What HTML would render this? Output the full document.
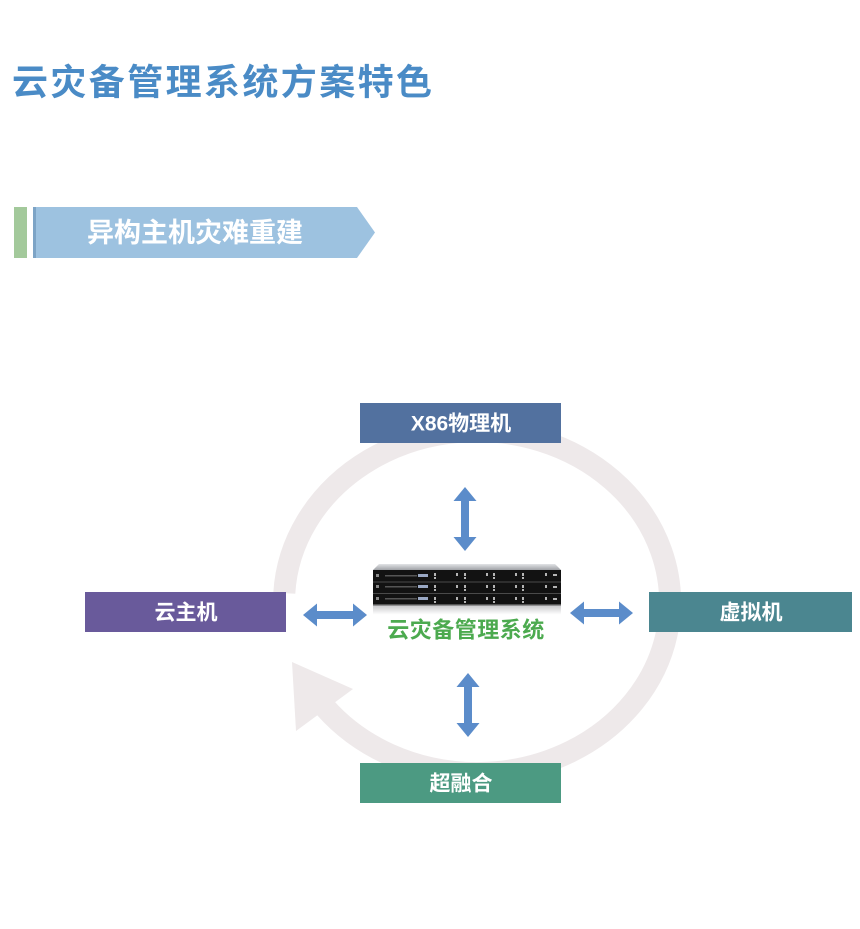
<!DOCTYPE html>
<html>
<head>
<meta charset="utf-8">
<style>
  html,body{margin:0;padding:0;background:#fff;}
  body{width:860px;height:929px;overflow:hidden;position:relative;}
  svg{position:absolute;left:0;top:0;}
  text{font-family:"Liberation Sans","Noto Sans CJK SC",sans-serif;}
</style>
</head>
<body>
<svg width="860" height="929" viewBox="0 0 860 929" xmlns="http://www.w3.org/2000/svg">
  <defs>
    <linearGradient id="topface" x1="0" y1="0" x2="0" y2="1">
      <stop offset="0" stop-color="#e2e3e6"/>
      <stop offset="1" stop-color="#9fa1a6"/>
    </linearGradient>
    <linearGradient id="refl" x1="0" y1="0" x2="0" y2="1">
      <stop offset="0" stop-color="#c9c9cb"/>
      <stop offset="1" stop-color="#ffffff"/>
    </linearGradient>
  </defs>

  <!-- Title -->
  <text x="12" y="82" font-size="36" font-weight="bold" fill="#4a8bc6" letter-spacing="2.4" dominant-baseline="central">云灾备管理系统方案特色</text>

  <!-- Banner -->
  <rect x="14" y="207" width="13" height="51" fill="#a3c99b"/>
  <rect x="33" y="207" width="3" height="51" fill="#7da4c6"/>
  <polygon points="36,207 357,207 375,232.5 357,258 36,258" fill="#9dc2e0"/>
  <text x="195" y="233" font-size="27" font-weight="bold" fill="#ffffff" text-anchor="middle" dominant-baseline="central">异构主机灾难重建</text>

  <!-- Circular arrow ring -->
  <path d="M 284.3 593.1 A 193 171 0 1 1 324.9 707.3" fill="none" stroke="#eee9ea" stroke-width="22"/>
  <polygon points="292,662 353,689 296,731" fill="#eee9ea"/>

  <!-- Boxes -->
  <rect x="360" y="403" width="201" height="40" fill="#52719f"/>
  <text x="461" y="424" font-size="21" font-weight="bold" fill="#ffffff" text-anchor="middle" dominant-baseline="central">X86物理机</text>

  <rect x="85" y="592" width="201" height="40" fill="#695a9b"/>
  <text x="186" y="613" font-size="21" font-weight="bold" fill="#ffffff" text-anchor="middle" dominant-baseline="central">云主机</text>

  <rect x="649" y="592" width="203" height="40" fill="#4b8690"/>
  <text x="751" y="613" font-size="21" font-weight="bold" fill="#ffffff" text-anchor="middle" dominant-baseline="central">虚拟机</text>

  <rect x="360" y="763" width="201" height="40" fill="#4c9a82"/>
  <text x="461" y="784" font-size="21" font-weight="bold" fill="#ffffff" text-anchor="middle" dominant-baseline="central">超融合</text>

  <!-- Double arrows -->
  <polygon fill="#5b8cca" points="465,487 476.5,501 469,501 469,537 476.5,537 465,551 453.5,537 461,537 461,501 453.5,501"/>
  <polygon fill="#5b8cca" points="468,673 479.5,687 472,687 472,723 479.5,723 468,737 456.5,723 464,723 464,687 456.5,687"/>
  <polygon fill="#5b8cca" points="303,615 317,603.5 317,611 353,611 353,603.5 367,615 353,626.5 353,619 317,619 317,626.5"/>
  <polygon fill="#5b8cca" points="570,613 584,601.5 584,609 619,609 619,601.5 633,613 619,624.5 619,617 584,617 584,624.5"/>

  <!-- Server -->
  <polygon points="379,564 555,564 561,570 373,570" fill="url(#topface)"/>
  <rect x="373" y="570" width="188" height="35" fill="#121212"/>
  <rect x="373" y="581.5" width="188" height="1" fill="#4a4a4a"/>
  <rect x="373" y="593" width="188" height="1" fill="#4a4a4a"/>
  <rect x="373" y="604" width="188" height="1.5" fill="#555"/>
  <g fill="#8a8a8a">
    <rect x="376" y="574" width="3" height="3"/>
    <rect x="376" y="585" width="3" height="3"/>
    <rect x="376" y="597" width="3" height="3"/>
    <rect x="385" y="575" width="32" height="1.5" fill="#555"/>
    <rect x="385" y="586" width="32" height="1.5" fill="#555"/>
    <rect x="385" y="598" width="32" height="1.5" fill="#555"/>
    <rect x="418" y="574" width="10" height="3" fill="#9aa8c4"/>
    <rect x="418" y="585" width="10" height="3" fill="#9aa8c4"/>
    <rect x="418" y="597" width="10" height="3" fill="#9aa8c4"/>
  </g>
  <g fill="#b5b5b5">
    <rect x="434" y="573" width="2" height="3"/><rect x="434" y="577" width="2" height="2"/>
    <rect x="456" y="573" width="2" height="3"/><rect x="464" y="573" width="2" height="3"/><rect x="464" y="577" width="2" height="2"/>
    <rect x="486" y="573" width="2" height="3"/><rect x="493" y="573" width="2" height="3"/><rect x="493" y="577" width="2" height="2"/>
    <rect x="515" y="573" width="2" height="3"/><rect x="522" y="573" width="2" height="3"/><rect x="522" y="577" width="2" height="2"/>
    <rect x="545" y="573" width="2" height="3"/><rect x="553" y="574" width="4" height="2"/>

    <rect x="434" y="585" width="2" height="3"/><rect x="434" y="589" width="2" height="2"/>
    <rect x="456" y="585" width="2" height="3"/><rect x="464" y="585" width="2" height="3"/><rect x="464" y="589" width="2" height="2"/>
    <rect x="486" y="585" width="2" height="3"/><rect x="493" y="585" width="2" height="3"/><rect x="493" y="589" width="2" height="2"/>
    <rect x="515" y="585" width="2" height="3"/><rect x="522" y="585" width="2" height="3"/><rect x="522" y="589" width="2" height="2"/>
    <rect x="545" y="585" width="2" height="3"/><rect x="553" y="586" width="4" height="2"/>

    <rect x="434" y="597" width="2" height="3"/><rect x="434" y="601" width="2" height="2"/>
    <rect x="456" y="597" width="2" height="3"/><rect x="464" y="597" width="2" height="3"/><rect x="464" y="601" width="2" height="2"/>
    <rect x="486" y="597" width="2" height="3"/><rect x="493" y="597" width="2" height="3"/><rect x="493" y="601" width="2" height="2"/>
    <rect x="515" y="597" width="2" height="3"/><rect x="522" y="597" width="2" height="3"/><rect x="522" y="601" width="2" height="2"/>
    <rect x="545" y="597" width="2" height="3"/><rect x="553" y="598" width="4" height="2"/>
  </g>
  <rect x="373" y="605.5" width="188" height="9" fill="url(#refl)"/>

  <!-- Server label -->
  <text x="466" y="630" font-size="22" font-weight="bold" fill="#4caa4f" text-anchor="middle" dominant-baseline="central" letter-spacing="0.5">云灾备管理系统</text>
</svg>
</body>
</html>
